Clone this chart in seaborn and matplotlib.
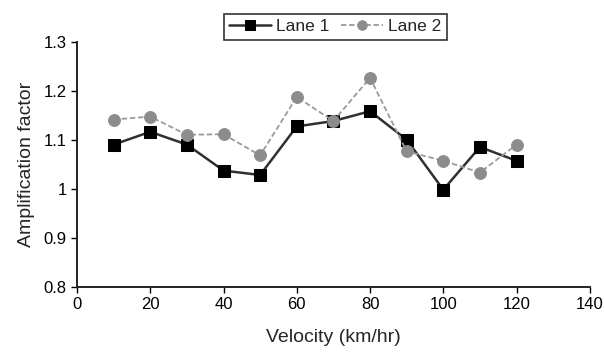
import numpy as np
import pandas as pd
import matplotlib
matplotlib.use("Agg")
import matplotlib.pyplot as plt
import seaborn as sns

# values
velocity = [10, 20, 30, 40, 50, 60, 70, 80, 90, 100, 110, 120]
lane1 = [1.09, 1.116, 1.09, 1.037, 1.028, 1.127, 1.138, 1.158, 1.10, 0.998, 1.085, 1.057]
lane2 = [1.141, 1.147, 1.11, 1.111, 1.068, 1.187, 1.138, 1.226, 1.076, 1.057, 1.033, 1.09]
x_ticks = [0, 20, 40, 60, 80, 100, 120, 140]
y_ticks = [0.8, 0.9, 1.0, 1.1, 1.2, 1.3]
y_tick_labels = ["0.8", "0.9", "1", "1.1", "1.2", "1.3"]

sns.set_theme(style="ticks")
plt.rcParams['font.family'] = ['Liberation Sans', 'DejaVu Sans']

df = pd.DataFrame({"Velocity": velocity * 2,
                   "Amp": lane1 + lane2,
                   "Lane": ["Lane 1"] * len(velocity) + ["Lane 2"] * len(velocity)})

fig = plt.figure(figsize=(6.04, 3.52), dpi=100)
ax = fig.add_axes([0.1275, 0.185, 0.849, 0.697])

sns.lineplot(data=df[df.Lane == "Lane 1"], x="Velocity", y="Amp", ax=ax,
             color="#303030", linewidth=1.8, marker="s", markersize=8.5,
             markerfacecolor="black", markeredgecolor="black", label="Lane 1")
sns.lineplot(data=df[df.Lane == "Lane 2"], x="Velocity", y="Amp", ax=ax,
             color="#9a9a9a", linewidth=1.3, linestyle=(0, (3, 1.5)), marker="o", markersize=8.5,
             markerfacecolor="#8c8c8c", markeredgecolor="#8c8c8c", label="Lane 2")

ax.set_xlim(0, 140)
ax.set_ylim(0.8, 1.3)
ax.set_xticks(x_ticks)
ax.set_yticks(y_ticks)
ax.set_yticklabels(y_tick_labels)
ax.tick_params(labelsize=12, length=4, width=1, colors="black")
ax.set_xlabel("Velocity (km/hr)", fontsize=14, labelpad=12)
ax.set_ylabel("Amplification factor", fontsize=14, labelpad=6)
for s in ["top", "right"]:
    ax.spines[s].set_visible(False)
for s in ["left", "bottom"]:
    ax.spines[s].set_color("#222222")
    ax.spines[s].set_linewidth(1.4)

leg = fig.legend(*ax.get_legend_handles_labels(), loc="upper center",
                 bbox_to_anchor=(0.555, 0.985), ncol=2, fontsize=12.5,
                 frameon=True, fancybox=False, edgecolor="black",
                 handlelength=2.4, handletextpad=0.3, columnspacing=0.7,
                 borderpad=0.3, markerscale=0.8)
leg.get_frame().set_linewidth(1.2)
ax.get_legend().remove()

fig.savefig("out.png", dpi=100)
